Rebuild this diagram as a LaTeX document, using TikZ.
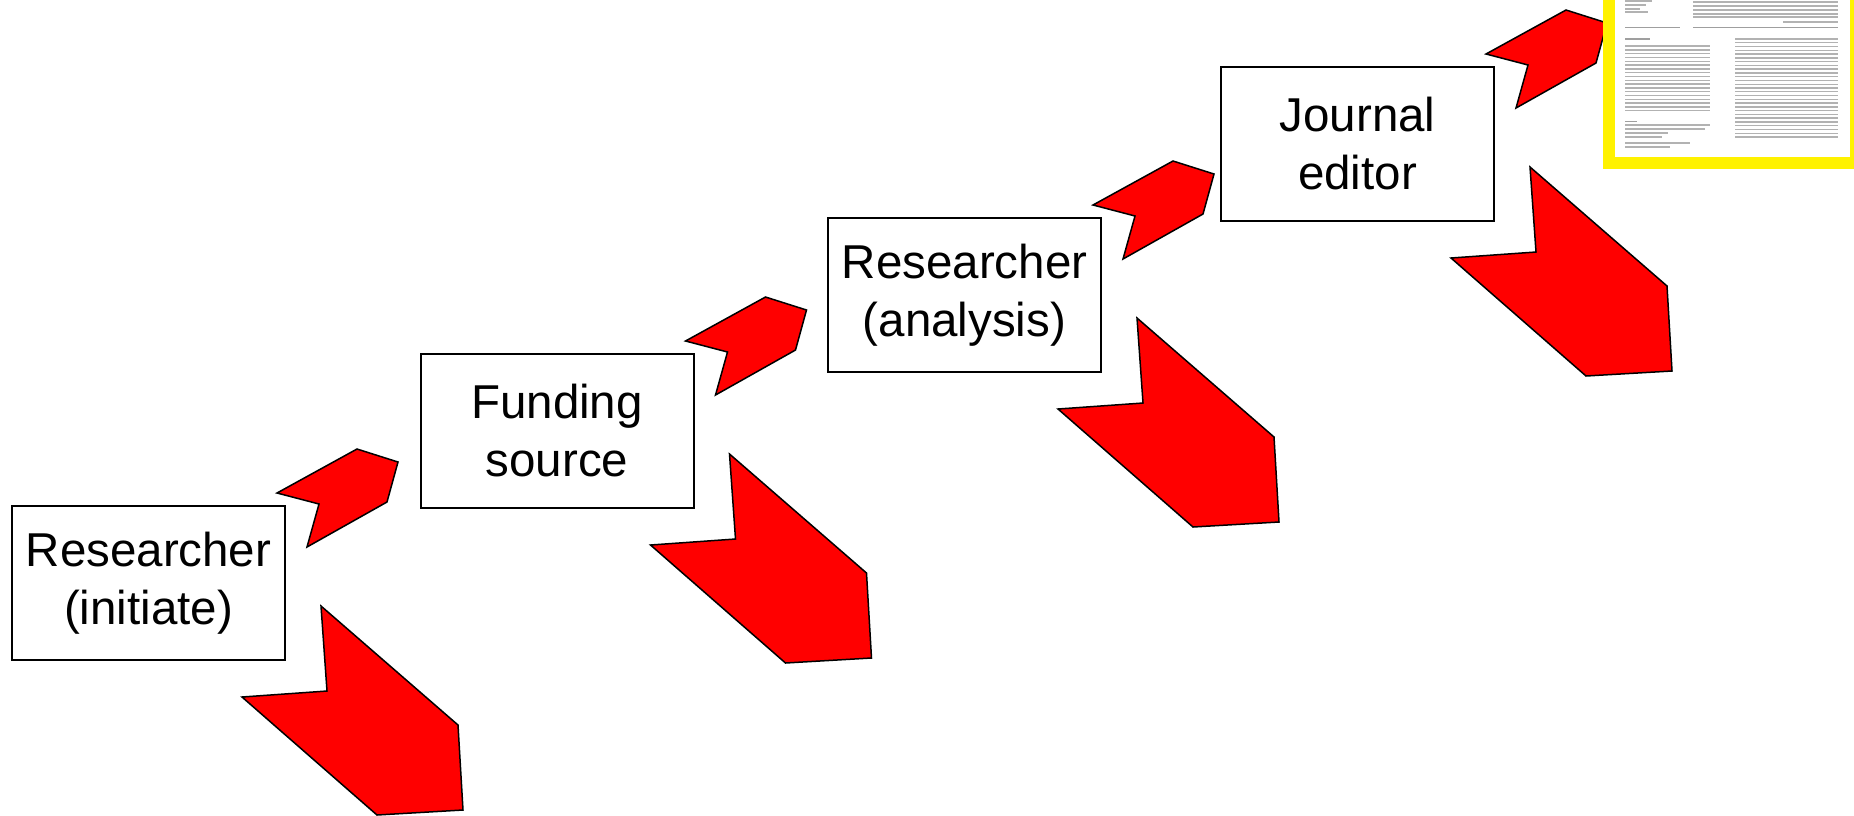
\documentclass[tikz,border=0pt]{standalone}
\usepackage{fontspec}
\setmainfont{Liberation Sans}

\begin{document}
\begin{tikzpicture}[x=1pt,y=-1pt,
  stagebox/.style={draw,line width=2pt,fill=white,minimum width=273pt,minimum height=154pt,
    inner sep=0pt,align=center,font=\fontsize{47.5}{58}\selectfont},
  blockarrow/.style={fill=red,draw=black,line width=1.5pt,line join=miter},
  pageline/.style={gray!60,line width=1.4pt}]
\useasboundingbox (0,0) rectangle (1854,815);
% the four stages
\node[stagebox] (init) at (148.5,583) {Researcher\\(initiate)};
\node[stagebox] (fund) at (557,431) {Funding\\source};
\node[stagebox] (anal) at (964.5,295) {Researcher\\(analysis)};
\node[stagebox] (edit) at (1357.5,144) {Journal\\editor};
% small and big block arrows beside each box
\foreach \b in {init,fund,anal,edit}{
  \begin{scope}[shift={(\b.center)}]
  \draw[blockarrow] (128.5,-90) -- (208.5,-134) -- (249.5,-121) -- (238.5,-81) -- (158.5,-36) -- (170.5,-79) -- cycle;
  \draw[blockarrow] (172.5,23) -- (309.5,142) -- (314.5,227) -- (228.5,232) -- (93.5,114) -- (178.5,108) -- cycle;
  \end{scope}
}
% published paper
\fill[yellow] (1603,-20) rectangle (1862,169);
\fill[white] (1615,-20) rectangle (1850,157);
\foreach \y/\l in {1/1652,5/1646,9/1640,12/1648}
  \draw[pageline] (1625,\y) -- (\l,\y);
\foreach \y in {2,6,10,14,17}
  \draw[pageline] (1693,\y) -- (1838,\y);
\draw[pageline] (1783,22) -- (1838,22);
\draw[gray!75,line width=0.8pt] (1625,27) -- (1680,27) (1693,27) -- (1838,27);
\draw[gray!75,line width=1.4pt] (1625,39) -- (1650,39);
\foreach \i [evaluate=\i as \yy using 46+3.8*\i] in {0,...,17}
  \draw[pageline] (1625,\yy) -- (1710,\yy);
\foreach \i [evaluate=\i as \yy using 39+3.77*\i] in {0,...,26}
  \draw[pageline] (1735,\yy) -- (1838,\yy);
\draw[gray!75,line width=0.6pt] (1625,121) -- (1637,121);
\foreach \y/\l in {125/1710,129/1705,133/1668,137/1662,143/1690,147/1670}
  \draw[pageline] (1625,\y) -- (\l,\y);
\end{tikzpicture}
\end{document}
